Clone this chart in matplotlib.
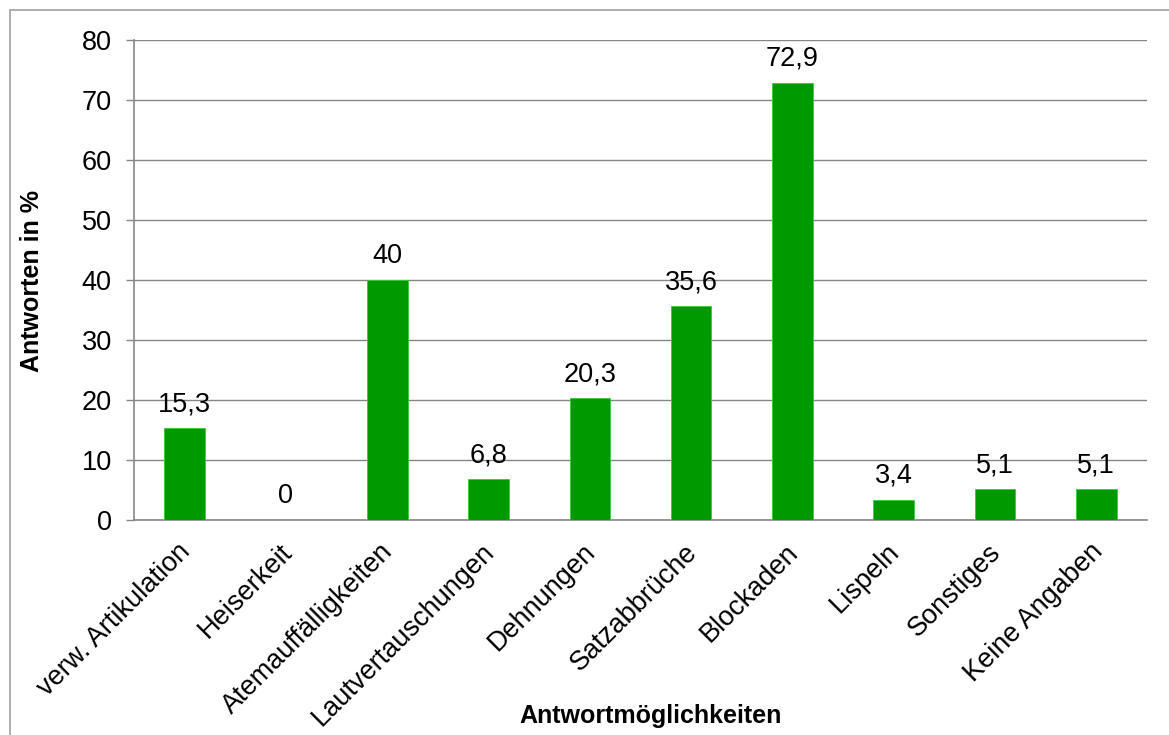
import matplotlib.pyplot as plt
import matplotlib.transforms as mtransforms
from matplotlib.patches import Rectangle

plt.rcParams['font.family'] = ['Liberation Sans', 'DejaVu Sans']

categories = ['verw. Artikulation', 'Heiserkeit', 'Atemauffälligkeiten',
              'Lautvertauschungen', 'Dehnungen', 'Satzabbrüche', 'Blockaden',
              'Lispeln', 'Sonstiges', 'Keine Angaben']
values = [15.3, 0, 40, 6.8, 20.3, 35.6, 72.9, 3.4, 5.1, 5.1]
labels = ['15,3', '0', '40', '6,8', '20,3', '35,6', '72,9', '3,4', '5,1', '5,1']
yticks = [0, 10, 20, 30, 40, 50, 60, 70, 80]

W, H = 1169, 735
fig = plt.figure(figsize=(W / 100, H / 100), dpi=100)
ax = fig.add_axes([134 / W, 1 - 520 / H, (1147 - 134) / W, (520 - 40) / H])

# outer chart border (Excel style)
fig.patches.append(Rectangle((10 / W, -0.1), 1.2, 1 - 10 / H + 0.1,
                             transform=fig.transFigure, fill=False,
                             edgecolor='#a0a0a0', linewidth=1.2))

x = list(range(len(categories)))
ax.bar(x, values, width=0.4, color='#009900', edgecolor='#3cc83c',
       linewidth=0.6, zorder=3)

for xi, v, lab in zip(x, values, labels):
    ax.annotate(lab, (xi, v), xytext=(0, 8), textcoords='offset points',
                ha='center', va='bottom', fontsize=19.5, color='black')

ax.set_xlim(-0.5, len(categories) - 0.5)
ax.set_ylim(0, 80)
ax.set_yticks(yticks)
ax.yaxis.grid(True, color='#868686', linewidth=1.0, zorder=0)
ax.set_axisbelow(True)

for s in ['top', 'right']:
    ax.spines[s].set_visible(False)
for s in ['left', 'bottom']:
    ax.spines[s].set_color('#868686')
    ax.spines[s].set_linewidth(1.2)

ax.tick_params(axis='y', length=6, width=1.0, color='#868686',
               labelsize=19.5, pad=10)
ax.tick_params(axis='x', length=0, labelsize=19.5, pad=10)
ax.set_xticks(x)
ax.set_xticklabels(categories, rotation=45, ha='right', rotation_mode='anchor')

# nudge the rotated labels a little left/down like the original
shift = mtransforms.ScaledTranslation(-7 / 100, -5 / 100, fig.dpi_scale_trans)
for t in ax.get_xticklabels():
    t.set_transform(t.get_transform() + shift)

fig.text(32 / W, 1 - 281 / H, 'Antworten in %', fontsize=18,
         fontweight='bold', ha='center', va='center', rotation=90)
fig.text(651 / W, 1 - 716 / H, 'Antwortmöglichkeiten', fontsize=18,
         fontweight='bold', ha='center', va='center')

fig.savefig('out.png', dpi=100)
